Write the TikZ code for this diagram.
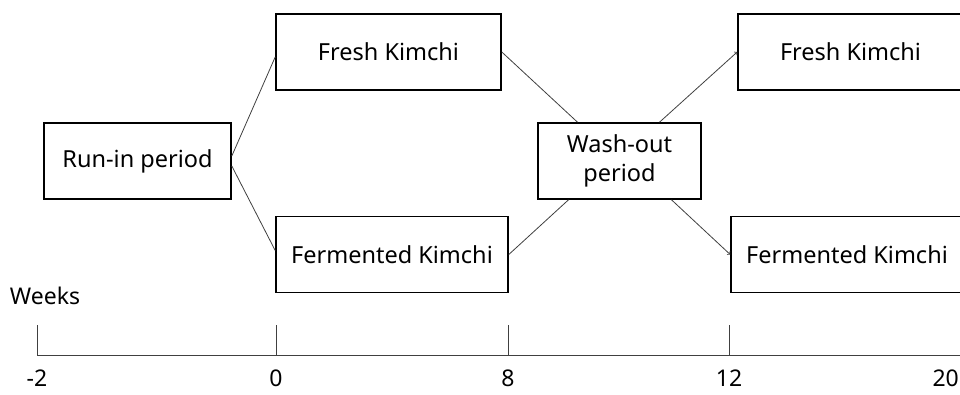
\documentclass[tikz,border=0pt]{standalone}
\usepackage{fontspec}
\setmainfont{Noto Sans}
\begin{document}
\begin{tikzpicture}[x=1pt,y=-1pt,
  box/.style={draw,line width=1.6pt,minimum height=76pt,inner sep=0pt,align=center,
    font=\fontsize{23.5}{29}\selectfont},
  link/.style={line width=0.8pt,draw=black!75},
  lab/.style={inner sep=0pt,font=\fontsize{23}{27}\selectfont}]
\useasboundingbox (0,0) rectangle (960,394);
\clip (0,0) rectangle (960,394);

%boxes
\node[box,minimum width=187pt] (run) at (137.5,161) {Run-in period};
\node[box,minimum width=225pt] (fresh1) at (388.5,52) {Fresh Kimchi};
\node[box,minimum width=232pt] (ferm1) at (392,254.5) {Fermented Kimchi};
\node[box,minimum width=163pt] (wash) at (619.5,161) {Wash-out\\period};
\node[box,minimum width=225pt] (fresh2) at (850.5,52) {Fresh Kimchi};
\node[box,minimum width=232pt] (ferm2) at (847,254.5) {Fermented Kimchi};

%links
\draw[link] ([yshift=5pt]run.east) -- ([yshift=-5pt]fresh1.west);
\draw[link] ([yshift=-5pt]run.east) -- ([yshift=4pt]ferm1.west);
\draw[link] (fresh1.east) -- ([xshift=-42pt]wash.north);
\draw[link] (ferm1.east) -- ([xshift=-51pt]wash.south);
\draw[link,->] ([xshift=40pt]wash.north) -- (fresh2.west);
\draw[link,->] ([xshift=52pt]wash.south) -- (ferm2.west);

%time axis
\node[lab] (weeks) at (45,296) {Weeks};
\coordinate (a0) at (37,355);
\coordinate (a1) at (970,355);
\draw[link] (a0) -- (a1);
\foreach \x/\w [count=\i] in {37/-2,276/0,508/8,729/12} {
  \coordinate (t\i) at (\x,325);
  \draw[link] (t\i) -- (\x,355);
  \node[lab] (w\i) at (\x,378) {\w};
}
\node[lab,anchor=east] (w5) at (959,378) {20};

\end{tikzpicture}
\end{document}
